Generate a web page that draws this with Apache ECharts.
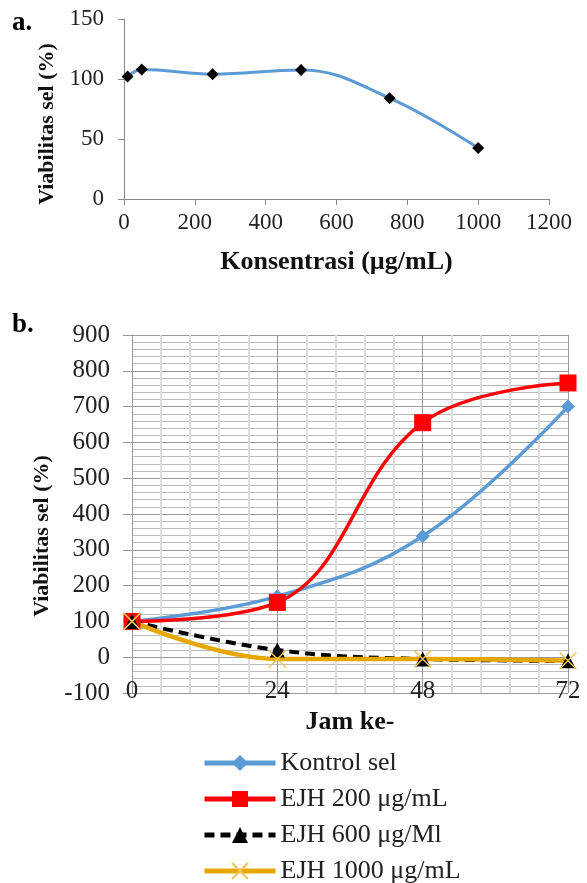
<!DOCTYPE html>
<html>
<head>
<meta charset="utf-8">
<script src="https://cdn.jsdelivr.net/npm/echarts@6/dist/echarts.min.js"></script>
<style>
  html, body { margin: 0; padding: 0; background: #fff; }
  #chart { width: 587px; height: 883px; }
</style>
</head>
<body>
<div id="chart"></div>
<script>
// panel a: viability vs concentration
const konsentrasi = [10, 50, 250, 500, 750, 1000];
const viabilitasA = [102, 108, 104, 107.5, 84, 42.5];

// panel b: viability over time
const jam = [0, 24, 48, 72];
const kontrolSel = [100, 170, 338, 700];
const ejh200 = [100, 153, 655, 766];
const ejh600 = [100, 20, -5, -10];
const ejh1000 = [100, -5, -5, -10];

const seriesNames = ["Kontrol sel", "EJH 200 μg/mL", "EJH 600 μg/Ml", "EJH 1000 μg/mL"];

const font = "Liberation Serif";
const pair = (xs, ys) => xs.map((x, i) => [x, ys[i]]);
const xMark = "path://M0 0 L10 10 M10 0 L0 10";
const plain = v => String(v);

const chart = echarts.init(document.getElementById("chart"));

chart.setOption({
    animation: false,
    backgroundColor: "#fff",
    textStyle: { fontFamily: font },
    graphic: [
        { type: "text", left: 12, top: 10, style: { text: "a.", font: "bold 27px " + font, fill: "#000" } },
        { type: "text", left: 12, top: 312, style: { text: "b.", font: "bold 27px " + font, fill: "#000" } }
    ],
    grid: [
        { left: 124, top: 19, width: 425, height: 180 },
        { left: 132, top: 335, width: 436, height: 358 }
    ],
    xAxis: [
        {
            gridIndex: 0, type: "value", min: 0, max: 1200, interval: 200,
            axisLine: { show: true, lineStyle: { color: "#888", width: 1 } },
            axisTick: { show: true, length: 6, lineStyle: { color: "#888" } },
            splitLine: { show: false },
            axisLabel: { fontSize: 23, color: "#222", margin: 12, fontFamily: font, formatter: plain },
            name: "Konsentrasi (µg/mL)", nameLocation: "middle", nameGap: 50,
            nameTextStyle: { fontSize: 26, fontWeight: "bold", color: "#111", fontFamily: font }
        },
        {
            gridIndex: 1, type: "value", min: 0, max: 72, interval: 24,
            axisLine: { show: true, lineStyle: { color: "#999", width: 1 } },
            axisTick: { show: false },
            minorTick: { show: false, splitNumber: 5 },
            splitLine: { show: true, lineStyle: { color: "#999", width: 1 } },
            minorSplitLine: { show: true, lineStyle: { color: "#ddd", width: 2 } },
            axisLabel: { fontSize: 25, color: "#222", margin: -14, fontFamily: font, formatter: plain },
            name: "Jam ke-", nameLocation: "middle", nameGap: 16,
            nameTextStyle: { fontSize: 26, fontWeight: "bold", color: "#111", fontFamily: font }
        }
    ],
    yAxis: [
        {
            gridIndex: 0, type: "value", min: 0, max: 150, interval: 50,
            axisLine: { show: true, lineStyle: { color: "#888", width: 1 } },
            axisTick: { show: true, length: 6, lineStyle: { color: "#888" } },
            splitLine: { show: false },
            axisLabel: { fontSize: 23, color: "#222", margin: 20, fontFamily: font, formatter: plain },
            name: "Viabilitas sel (%)", nameLocation: "middle", nameGap: 56,
            nameTextStyle: { fontSize: 22, fontWeight: "bold", color: "#111", fontFamily: font, padding: [0, 30, 0, 0] }
        },
        {
            gridIndex: 1, type: "value", min: -100, max: 900, interval: 100,
            axisLine: { show: true, lineStyle: { color: "#999", width: 1 } },
            axisTick: { show: true, length: 9, lineStyle: { color: "#999" } },
            minorTick: { show: false, splitNumber: 5 },
            splitLine: { show: true, lineStyle: { color: "#999", width: 1 } },
            minorSplitLine: { show: true, lineStyle: { color: "#bbb", width: 1 } },
            axisLabel: { fontSize: 25, color: "#222", margin: 22, fontFamily: font, formatter: plain },
            name: "Viabilitas sel (%)", nameLocation: "middle", nameGap: 76,
            nameTextStyle: { fontSize: 22, fontWeight: "bold", color: "#111", fontFamily: font, padding: [0, 44, 0, 0] }
        }
    ],
    legend: {
        orient: "vertical", left: 202, top: 750, height: 160, padding: 0,
        itemWidth: 71, itemHeight: 20, itemGap: 10,
        lineStyle: { width: 5 },
        textStyle: { fontSize: 26, color: "#222", fontFamily: font },
        data: seriesNames
    },
    series: [
        {
            type: "line", xAxisIndex: 0, yAxisIndex: 0, smooth: 0.4,
            data: pair(konsentrasi, viabilitasA),
            lineStyle: { color: "#5B9BD5", width: 3 },
            symbol: "diamond", symbolSize: 12,
            itemStyle: { color: "#000" }
        },
        {
            name: seriesNames[0], type: "line", xAxisIndex: 1, yAxisIndex: 1, smooth: 0.4,
            data: pair(jam, kontrolSel),
            lineStyle: { color: "#5B9BD5", width: 3.5 },
            symbol: "diamond", symbolSize: 14,
            itemStyle: { color: "#5B9BD5" }
        },
        {
            name: seriesNames[1], type: "line", xAxisIndex: 1, yAxisIndex: 1, smooth: 0.4,
            data: pair(jam, ejh200),
            lineStyle: { color: "#FF0000", width: 3.5 },
            symbol: "rect", symbolSize: 17,
            itemStyle: { color: "#FF0000" }
        },
        {
            name: seriesNames[2], type: "line", xAxisIndex: 1, yAxisIndex: 1, smooth: 0.4,
            data: pair(jam, ejh600),
            lineStyle: { color: "#000", width: 4, type: [10, 6] },
            symbol: "triangle", symbolSize: 15,
            itemStyle: { color: "#000" }
        },
        {
            name: seriesNames[3], type: "line", xAxisIndex: 1, yAxisIndex: 1, smooth: 0.4,
            data: pair(jam, ejh1000),
            lineStyle: { color: "#E6A800", width: 4.5 },
            symbol: xMark, symbolSize: 17,
            itemStyle: { color: "transparent", borderColor: "#F2C45A", borderWidth: 1.5 }
        }
    ]
});
</script>
</body>
</html>
